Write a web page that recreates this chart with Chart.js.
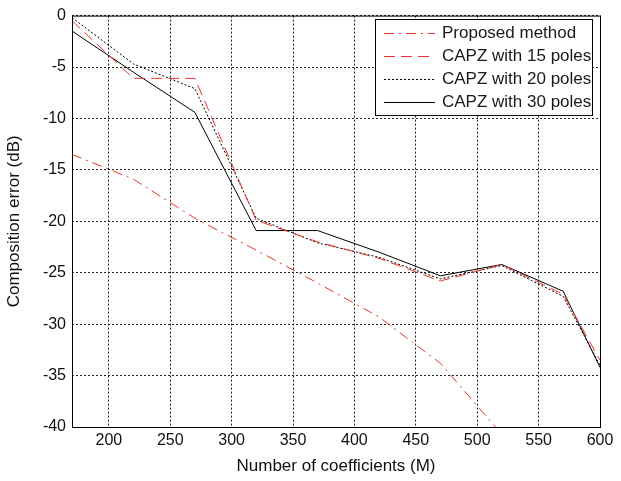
<!DOCTYPE html>
<html>
<head>
<meta charset="utf-8">
<script src="https://cdn.jsdelivr.net/npm/chart.js@4"></script>
<style>
    html, body { margin: 0; padding: 0; background: #fff; }
    #wrap { width: 621px; height: 481px; }
</style>
</head>
<body>
<div id="wrap"><canvas id="grafico" width="621" height="481"></canvas></div>
<script>
// valores
const coeficientes = [170, 220, 270, 320, 370, 420, 470, 520, 570, 600];
const metodoProposto = [-13.5, -15.9, -19.7, -22.8, -26.0, -29.3, -33.8, -40.7];
const capz15 = [-0.5, -6.1, -6.1, -19.9, -22.0, -23.6, -25.8, -24.2, -27.1, -33.5];
const capz20 = [-0.2, -4.7, -7.1, -19.7, -22.1, -23.5, -25.6, -24.3, -27.3, -34.0];
const capz30 = [-1.5, -5.5, -9.4, -20.9, -20.9, -23.0, -25.3, -24.2, -26.8, -34.2];
const ticksX = [200, 250, 300, 350, 400, 450, 500, 550, 600];
const ticksY = [0, -5, -10, -15, -20, -25, -30, -35, -40];

const fonte = 'Liberation Sans, Arial, sans-serif';
const vermelho = 'rgb(232, 52, 40)';

function pontos(valores) {
    return valores.map((v, i) => ({ x: coeficientes[i], y: v }));
}

// moldura e legenda no estilo matlab
const molduraLegenda = {
    id: 'molduraLegenda',
    afterDatasetsDraw(chart) {
        const { ctx, chartArea: a } = chart;
        ctx.save();
        ctx.strokeStyle = '#000';
        ctx.lineWidth = 1;
        ctx.setLineDash([]);
        ctx.strokeRect(a.left + 0.5, a.top + 0.5, a.right - a.left, a.bottom - a.top);

        const caixa = { x: 375, y: 19, w: 217, h: 96 };
        ctx.fillStyle = '#fff';
        ctx.fillRect(caixa.x, caixa.y, caixa.w, caixa.h);
        ctx.strokeRect(caixa.x + 0.5, caixa.y + 0.5, caixa.w, caixa.h);

        ctx.font = '17px ' + fonte;
        ctx.textBaseline = 'middle';
        chart.data.datasets.forEach((ds, i) => {
            const y = caixa.y + 14 + i * 23;
            ctx.strokeStyle = ds.borderColor;
            ctx.lineWidth = 1;
            ctx.setLineDash(ds.borderDash || []);
            ctx.beginPath();
            ctx.moveTo(caixa.x + 9, y + 0.5);
            ctx.lineTo(caixa.x + 60, y + 0.5);
            ctx.stroke();
            ctx.setLineDash([]);
            ctx.fillStyle = '#1a1a1a';
            ctx.fillText(ds.label, caixa.x + 67, y);
        });
        ctx.restore();
    }
};

new Chart(document.getElementById('grafico'), {
    type: 'line',
    data: {
        datasets: [
            {
                label: 'Proposed method',
                data: pontos(metodoProposto),
                borderColor: vermelho,
                borderDash: [10, 5, 2, 5],
                borderWidth: 1
            },
            {
                label: 'CAPZ with 15 poles',
                data: pontos(capz15),
                borderColor: vermelho,
                borderDash: [11, 6],
                borderWidth: 1
            },
            {
                label: 'CAPZ with 20 poles',
                data: pontos(capz20),
                borderColor: '#000',
                borderDash: [2, 2],
                borderWidth: 1
            },
            {
                label: 'CAPZ with 30 poles',
                data: pontos(capz30),
                borderColor: '#000',
                borderWidth: 1
            }
        ]
    },
    options: {
        responsive: false,
        animation: false,
        layout: { padding: { left: 0, right: 21, top: 12, bottom: 0 } },
        elements: { point: { radius: 0 }, line: { tension: 0 } },
        plugins: { legend: { display: false }, tooltip: { enabled: false } },
        scales: {
            x: {
                type: 'linear',
                min: 170,
                max: 600,
                afterBuildTicks: scale => { scale.ticks = ticksX.map(v => ({ value: v })); },
                afterFit: scale => { scale.height = 54; },
                grid: { color: '#222', lineWidth: 1, drawTicks: false },
                border: { display: false, dash: [2, 2] },
                ticks: { color: '#111', font: { family: fonte, size: 16 }, padding: 4, maxRotation: 0 },
                title: { display: true, text: 'Number of coefficients (M)', color: '#111', font: { family: fonte, size: 17 }, padding: { top: 1 } }
            },
            y: {
                min: -40,
                max: 0,
                afterBuildTicks: scale => { scale.ticks = ticksY.map(v => ({ value: v })); },
                afterFit: scale => { scale.width = 72; },
                grid: { color: '#222', lineWidth: 1, drawTicks: false },
                border: { display: false, dash: [2, 2] },
                ticks: { color: '#111', font: { family: fonte, size: 16 }, padding: 6 },
                title: { display: true, text: 'Composition error (dB)', color: '#111', font: { family: fonte, size: 17 }, padding: { bottom: 2 } }
            }
        }
    },
    plugins: [molduraLegenda]
});
</script>
</body>
</html>
